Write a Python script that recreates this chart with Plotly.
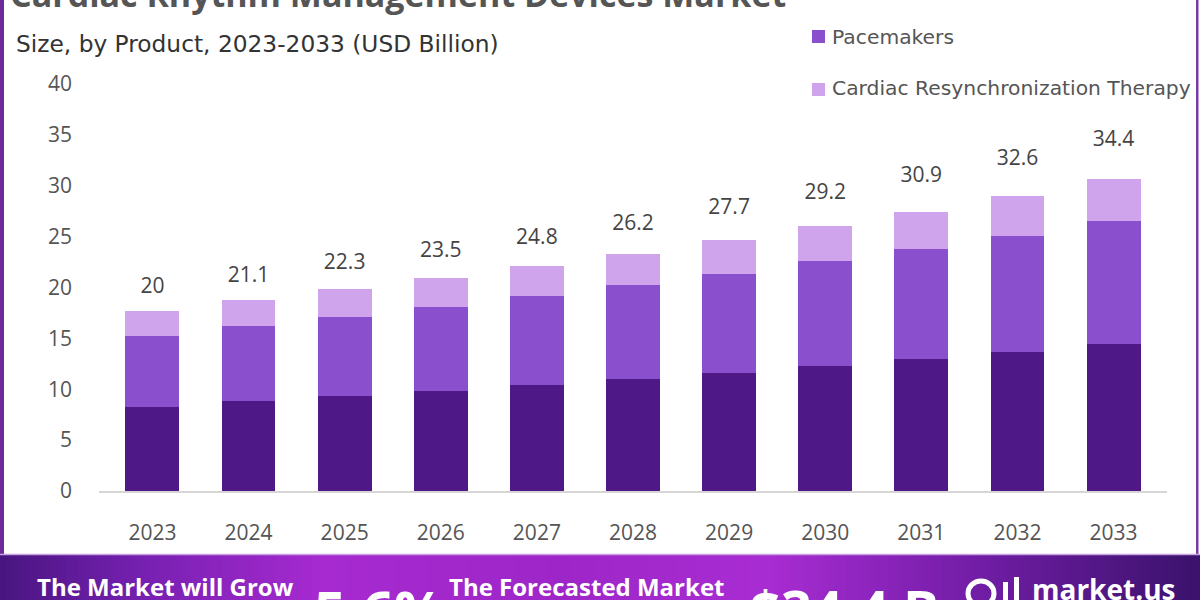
import plotly.graph_objects as go

# ---------------- data ----------------
years = ["2023", "2024", "2025", "2026", "2027", "2028", "2029", "2030", "2031", "2032", "2033"]
defibrillators = [8.3, 8.85, 9.37, 9.86, 10.45, 11.0, 11.63, 12.28, 12.97, 13.66, 14.42]
pacemakers = [6.98, 7.4, 7.76, 8.24, 8.71, 9.25, 9.67, 10.29, 10.81, 11.43, 12.12]
crt = [2.42, 2.52, 2.72, 2.8, 2.99, 3.04, 3.37, 3.47, 3.67, 3.93, 4.12]
totals = [20, 21.1, 22.3, 23.5, 24.8, 26.2, 27.7, 29.2, 30.9, 32.6, 34.4]
total_labels = ["20", "21.1", "22.3", "23.5", "24.8", "26.2", "27.7", "29.2", "30.9", "32.6", "34.4"]
series_names = ["Defibrillators", "Pacemakers", "Cardiac Resynchronization Therapy"]
y_ticks = [0, 5, 10, 15, 20, 25, 30, 35, 40]

# ---------------- style ----------------
C_DARK = "#4e1886"
C_MED = "#8a4fcc"
C_LIGHT = "#d0a4ec"
FONT = "Open Sans, Lato, sans-serif"
FONT_WIDE = "DejaVu Sans, Open Sans, sans-serif"

W_FIG, H_FIG = 1200, 600
L, T, R, B = 99, 84, 33, 109
PW = W_FIG - L - R
PH = H_FIG - T - B


def px(x):
    return (x - L) / PW


def py(y):
    return (T + PH - y) / PH


fig = go.Figure()
fig.add_trace(go.Bar(x=years, y=defibrillators, name=series_names[0], marker=dict(color=C_DARK, line=dict(width=0))))
fig.add_trace(go.Bar(x=years, y=pacemakers, name=series_names[1], marker=dict(color=C_MED, line=dict(width=0))))
fig.add_trace(go.Bar(x=years, y=crt, name=series_names[2], marker=dict(color=C_LIGHT, line=dict(width=0))))
fig.add_trace(go.Scatter(x=years, y=totals, mode="text", text=total_labels,
                         textposition="middle center",
                         textfont=dict(size=21, color="#444444", family=FONT),
                         showlegend=False, cliponaxis=False, hoverinfo="skip"))

shapes = []
annotations = []

# banner gradient strips
stops = [(0, (72, 22, 128)), (140, (118, 32, 176)), (320, (166, 42, 208)),
         (560, (158, 38, 200)), (770, (168, 44, 210)), (960, (118, 30, 170)), (1200, (58, 18, 108))]


def col_at(x):
    for (x0, c0), (x1, c1) in zip(stops[:-1], stops[1:]):
        if x0 <= x <= x1:
            t = (x - x0) / (x1 - x0)
            return "rgb(%d,%d,%d)" % tuple(round(a + (b - a) * t) for a, b in zip(c0, c1))
    return "rgb(%d,%d,%d)" % stops[-1][1]


step = 6
for i in range(0, W_FIG, step):
    shapes.append(dict(type="rect", xref="paper", yref="paper", layer="below",
                       x0=px(i), x1=px(i + step + 1), y0=py(600), y1=py(555),
                       line=dict(width=0), fillcolor=col_at(i + step / 2)))

# card borders
shapes.append(dict(type="rect", xref="paper", yref="paper", x0=px(0), x1=px(4), y0=py(555), y1=py(0),
                   line=dict(width=0), fillcolor="#6b2a98"))
shapes.append(dict(type="rect", xref="paper", yref="paper", x0=px(1196), x1=px(1198.5), y0=py(555), y1=py(0),
                   line=dict(width=0), fillcolor="#7b3aa4"))
shapes.append(dict(type="line", xref="paper", yref="paper", x0=px(0), x1=px(1200), y0=py(554.5), y1=py(554.5),
                   line=dict(width=1.5, color="#c9a2e0")))

# legend squares + text
for (ytop, ybot, ycen, colr, name) in [(30, 43, 37, C_MED, series_names[1]), (83, 96, 88, C_LIGHT, series_names[2])]:
    shapes.append(dict(type="rect", xref="paper", yref="paper", x0=px(812), x1=px(825),
                       y0=py(ybot), y1=py(ytop), line=dict(width=0), fillcolor=colr))
    annotations.append(dict(xref="paper", yref="paper", x=px(830), y=py(ycen), xanchor="left", yanchor="middle",
                            text=name, showarrow=False, font=dict(size=20.3, color="#555555", family=FONT_WIDE)))

# title (clipped at top) and subtitle
annotations.append(dict(xref="paper", yref="paper", x=px(8), y=py(-6), xanchor="left", yanchor="middle",
                        text="<b>Cardiac Rhythm Management Devices Market</b>", showarrow=False,
                        font=dict(size=34, color="#555555", family=FONT)))
annotations.append(dict(xref="paper", yref="paper", x=px(14), y=py(43), xanchor="left", yanchor="middle",
                        text="Size, by Product, 2023-2033 (USD Billion)", showarrow=False,
                        font=dict(size=23.3, color="#333333", family=FONT_WIDE)))


# banner texts
def banner(text, x, ytop, size):
    annotations.append(dict(xref="paper", yref="paper", x=px(x), y=py(ytop), xanchor="left", yanchor="top",
                            text="<b>%s</b>" % text, showarrow=False,
                            font=dict(size=size, color="white", family=FONT)))


banner("The Market will Grow", 35, 568, 24)
banner("5.6%", 312, 570, 56)
banner("The Forecasted Market", 447, 568, 24)
banner("$34.4 B", 748, 570, 54)
banner("market.us", 1030, 568, 28)

# logo icon
shapes.append(dict(type="circle", xref="paper", yref="paper", x0=px(968), x1=px(994), y0=py(606), y1=py(581),
                   line=dict(width=5, color="white")))
shapes.append(dict(type="rect", xref="paper", yref="paper", x0=px(1003), x1=px(1008), y0=py(600), y1=py(582),
                   line=dict(width=0), fillcolor="white"))
shapes.append(dict(type="rect", xref="paper", yref="paper", x0=px(1014), x1=px(1019), y0=py(600), y1=py(577),
                   line=dict(width=0), fillcolor="white"))

fig.update_layout(
    width=W_FIG, height=H_FIG,
    margin=dict(l=L, r=R, t=T, b=B, pad=0),
    barmode="stack", bargap=0.44,
    paper_bgcolor="white", plot_bgcolor="white",
    showlegend=False,
    font=dict(family=FONT, color="#555555"),
    shapes=shapes, annotations=annotations,
    xaxis=dict(type="category", showline=True, linecolor="#d6d6d6", linewidth=1.5, ticks="",
               showgrid=False, tickfont=dict(size=21, color="#555555"), ticklabelstandoff=22),
    yaxis=dict(range=[0, 40], tickvals=y_ticks, showgrid=False, zeroline=False, showline=False, ticks="",
               tickfont=dict(size=21, color="#555555"), ticklabelstandoff=26),
)

fig.write_html("out.html")
